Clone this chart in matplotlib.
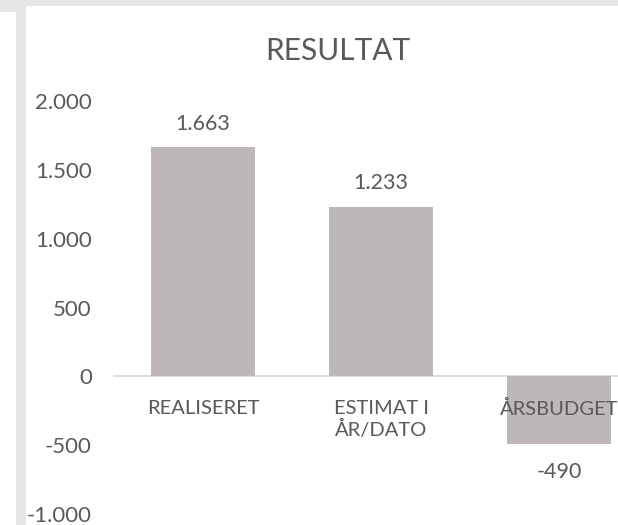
import matplotlib
matplotlib.use('Agg')
import matplotlib.pyplot as plt
from matplotlib.patches import Rectangle
from matplotlib.ticker import FuncFormatter

# data
categories = ['REALISERET', 'ESTIMAT I\nÅR/DATO', 'ÅRSBUDGET']
values     = [1663, 1233, -490]
y_ticks    = [-1000, -500, 0, 500, 1000, 1500, 2000]
title      = 'RESULTAT'

TEXT  = '#595959'
BAR   = '#bfb8b8'
FRAME = '#e7e5e6'
W, H  = 618, 525

plt.rcParams['font.family'] = ['Lato', 'DejaVu Sans']


def dk(v):
    # Danish style thousands separator
    return f'{v:,.0f}'.replace(',', '.')


fig = plt.figure(figsize=(W / 100, H / 100), dpi=100)

# grey frame strips (top band + left strip) from the screenshot
for x, y, w, h in [(0, 0, W, 6), (0, 0, 16, 12), (16, 0, 10, H)]:
    fig.add_artist(Rectangle((x / W, 1 - (y + h) / H), w / W, h / H,
                             transform=fig.transFigure, color=FRAME, lw=0))

ax = fig.add_axes([114 / W, 11 / H, 1 - 114 / W, 413 / H])
ax.patch.set_alpha(0)

x = range(len(categories))
bars = ax.bar(x, values, width=0.584, color=BAR, zorder=1)

ax.set_xlim(-0.5, 2.33)
ax.set_ylim(-1000, 2000)
ax.set_yticks(y_ticks)
ax.yaxis.set_major_formatter(FuncFormatter(lambda v, _: dk(v)))
ax.set_xticks(list(x))
ax.set_xticklabels(categories, linespacing=1.5)

for side in ['top', 'right', 'left']:
    ax.spines[side].set_visible(False)
ax.spines['bottom'].set_position(('data', 0))
ax.spines['bottom'].set_color('#d9d9d9')
ax.spines['bottom'].set_linewidth(1.3)
ax.spines['bottom'].set_zorder(0.5)

ax.tick_params(axis='y', length=0, pad=16, labelsize=16, labelcolor=TEXT)
ax.tick_params(axis='x', length=0, pad=17, labelsize=14.5, labelcolor=TEXT)

for b, v in zip(bars, values):
    off = 17 if v >= 0 else -20
    ax.annotate(dk(v), (b.get_x() + b.get_width() / 2, v),
                xytext=(0, off), textcoords='offset points',
                ha='center', va='center', fontsize=15.5, color=TEXT)

fig.text(337.5 / W, 1 - 51 / H, title, ha='center', va='center',
         fontsize=21.5, color=TEXT)

fig.savefig('out.png', dpi=100, facecolor='white')
